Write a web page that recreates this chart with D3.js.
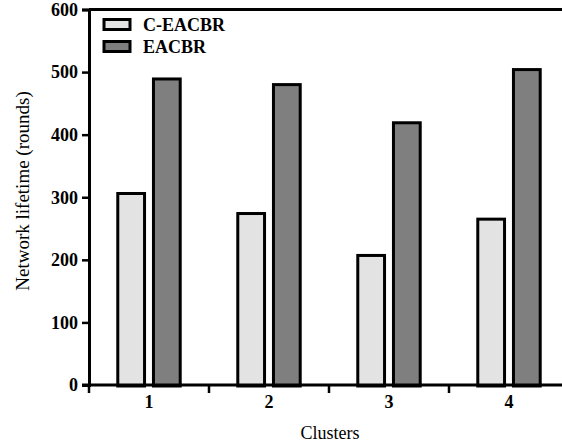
<!DOCTYPE html>
<html>
<head>
<meta charset="utf-8">
<script src="https://cdn.jsdelivr.net/npm/d3@7"></script>
<style>
  body { margin: 0; background: #fff; }
  svg text { font-family: "Liberation Serif", "Times New Roman", Times, serif; fill: #000; }
</style>
</head>
<body>
<svg width="562" height="445"></svg>
<script>
const svg = d3.select("svg");

// chart data
const clusters = ["1", "2", "3", "4"];
const seriesNames = ["C-EACBR", "EACBR"];
const ceacbrValues = [306, 274, 207, 265];
const eacbrValues = [489, 480, 419, 504];
const yTicks = [0, 100, 200, 300, 400, 500, 600];

const seriesColours = ["#e3e3e3", "#7f7f7f"];

const data = clusters.map((c, i) => ({
    cluster: c,
    values: [ceacbrValues[i], eacbrValues[i]]
}));

// plot edges (right edge runs past the picture, as in the original)
const plotLeft = 89, plotRight = 569, plotTop = 9.5, plotBottom = 385;
const serif = "'Liberation Serif', 'Times New Roman', serif";

// scales
const x0 = d3.scaleBand()
    .domain(clusters)
    .range([plotLeft, plotRight])
    .paddingInner(0.45)
    .paddingOuter(0.225);

const x1 = d3.scaleBand()
    .domain(seriesNames)
    .range([0, x0.bandwidth()])
    .paddingInner(0.25)
    .paddingOuter(0.05);

const y = d3.scaleLinear()
    .domain([0, 600])
    .range([plotBottom, plotTop]);

const colour = d3.scaleOrdinal(seriesNames, seriesColours);

// bars
const groups = svg.append("g").selectAll("g").data(data)
    .enter().append("g")
    .attr("transform", d => `translate(${x0(d.cluster)},0)`);

groups.selectAll("rect")
    .data(d => d.values.map((v, i) => ({ name: seriesNames[i], value: v })))
    .enter().append("rect")
    .attr("x", d => x1(d.name))
    .attr("y", d => y(d.value))
    .attr("width", x1.bandwidth())
    .attr("height", d => y(0) - y(d.value) + 1)
    .attr("fill", d => colour(d.name))
    .attr("stroke", "#000")
    .attr("stroke-width", 3);

// top frame line
svg.append("line")
    .attr("x1", plotLeft).attr("x2", plotRight)
    .attr("y1", y(600)).attr("y2", y(600))
    .attr("stroke", "#000").attr("stroke-width", 3);

// y axis
const yAxis = svg.append("g")
    .attr("transform", `translate(${plotLeft},0)`)
    .call(d3.axisLeft(y).tickValues(yTicks).tickSize(7).tickPadding(4));
yAxis.attr("font-family", null).attr("font-size", null);
yAxis.select(".domain").attr("stroke-width", 3);
yAxis.selectAll(".tick line").attr("stroke-width", 2.5);
yAxis.selectAll(".tick text")
    .style("font-family", serif)
    .style("font-size", "18px")
    .style("font-weight", "bold");

// x axis: line, tick marks between groups, labels at centres
svg.append("line")
    .attr("x1", plotLeft - 7).attr("x2", plotRight)
    .attr("y1", plotBottom).attr("y2", plotBottom)
    .attr("stroke", "#000").attr("stroke-width", 3);

svg.append("g").selectAll("line").data(clusters)
    .enter().append("line")
    .attr("x1", d => x0(d) - x0.paddingOuter() * x0.step())
    .attr("x2", d => x0(d) - x0.paddingOuter() * x0.step())
    .attr("y1", plotBottom)
    .attr("y2", plotBottom + 8)
    .attr("stroke", "#000")
    .attr("stroke-width", 2.5);

svg.append("g").selectAll("text").data(clusters)
    .enter().append("text")
    .attr("x", d => x0(d) + x0.bandwidth() / 2)
    .attr("y", plotBottom + 23)
    .attr("text-anchor", "middle")
    .style("font-family", serif)
    .style("font-size", "18px")
    .style("font-weight", "bold")
    .text(d => d);

// axis titles
svg.append("text")
    .attr("x", 330)
    .attr("y", 439)
    .attr("text-anchor", "middle")
    .style("font-family", serif)
    .style("font-size", "18px")
    .text("Clusters");

svg.append("text")
    .attr("transform", "translate(29,191) rotate(-90)")
    .attr("text-anchor", "middle")
    .style("font-family", serif)
    .style("font-size", "19px")
    .text("Network lifetime (rounds)");

// legend
const legend = svg.append("g").selectAll("g").data(seriesNames)
    .enter().append("g")
    .attr("transform", (d, i) => `translate(104,${19.5 + i * 22})`);

legend.append("rect")
    .attr("width", 26)
    .attr("height", 10)
    .attr("fill", d => colour(d))
    .attr("stroke", "#000")
    .attr("stroke-width", 3);

legend.append("text")
    .attr("x", 39)
    .attr("y", 11)
    .style("font-family", serif)
    .style("font-size", "18px")
    .style("font-weight", "bold")
    .text(d => d);
</script>
</body>
</html>
